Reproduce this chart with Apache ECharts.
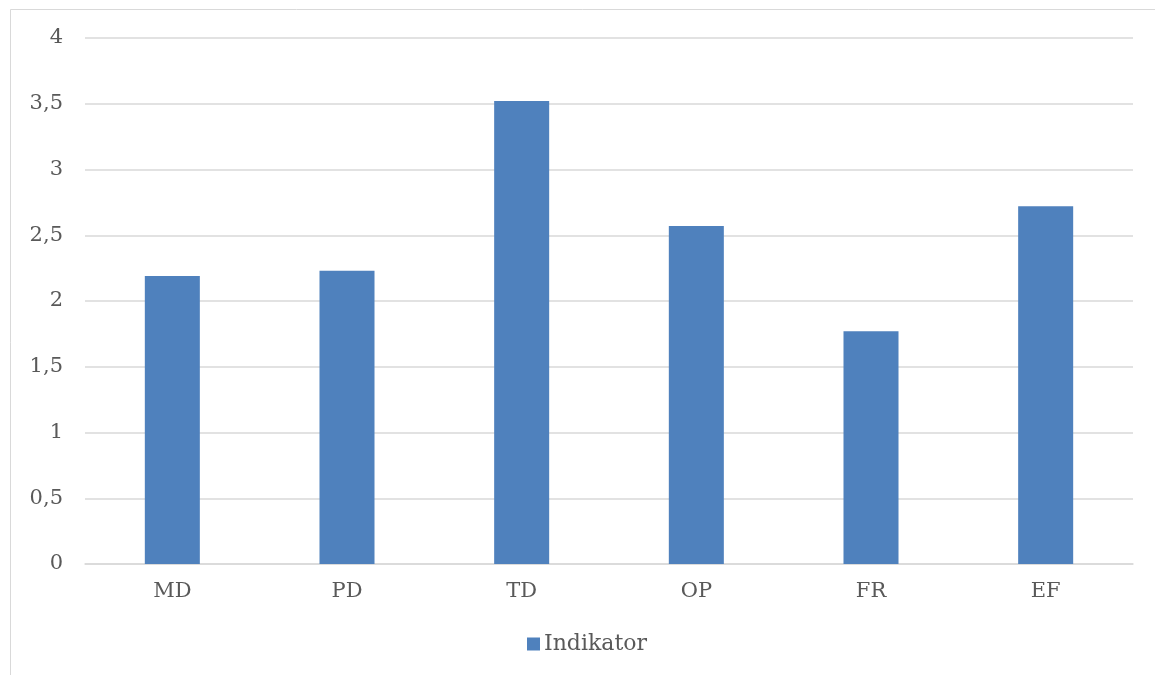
<!DOCTYPE html>
<html>
<head>
<meta charset="utf-8">
<script src="https://cdn.jsdelivr.net/npm/echarts@6/dist/echarts.min.js"></script>
<style>
  html, body { margin: 0; padding: 0; background: #fff; }
  #chart { width: 1155px; height: 675px; }
</style>
</head>
<body>
<div id="chart"></div>
<script>
// Indicator scores per category
const categories = ['MD', 'PD', 'TD', 'OP', 'FR', 'EF'];
const indikatorValues = [2.19, 2.23, 3.52, 2.57, 1.77, 2.72];
const seriesName = 'Indikator';

const chart = echarts.init(document.getElementById('chart'), null, { renderer: 'canvas' });

chart.setOption({
  animation: false,
  backgroundColor: '#ffffff',
  graphic: [
    {
      type: 'polyline',
      shape: { points: [[10.5, 675], [10.5, 9.5], [1155, 9.5]] },
      style: { stroke: '#d9d9d9', lineWidth: 1, fill: null },
      silent: true
    }
  ],
  grid: { left: 85, right: 22, top: 38, bottom: 111, containLabel: false },
  legend: {
    data: [seriesName],
    bottom: 15,
    left: 522,
    itemWidth: 13,
    itemHeight: 13,
    itemGap: 4,
    icon: 'rect',
    textStyle: { fontFamily: 'DejaVu Serif', fontSize: 22, color: '#595959', padding: [0, 0, 0, -1] }
  },
  xAxis: {
    type: 'category',
    data: categories,
    axisLine: { show: true, lineStyle: { color: '#d9d9d9', width: 1.5 } },
    axisTick: { show: false },
    axisLabel: { fontFamily: 'DejaVu Serif', fontSize: 21, color: '#595959', margin: 17 }
  },
  yAxis: {
    type: 'value',
    min: 0,
    max: 4,
    interval: 0.5,
    axisLine: { show: false },
    axisTick: { show: false },
    splitLine: { lineStyle: { color: '#d9d9d9', width: 1.5 } },
    axisLabel: {
      fontFamily: 'DejaVu Serif',
      fontSize: 21,
      color: '#595959',
      margin: 22,
      formatter: v => String(v).replace('.', ',')
    }
  },
  series: [
    {
      name: seriesName,
      type: 'bar',
      data: indikatorValues,
      barWidth: '31.5%',
      itemStyle: { color: '#4F81BD' }
    }
  ]
});
</script>
</body>
</html>
